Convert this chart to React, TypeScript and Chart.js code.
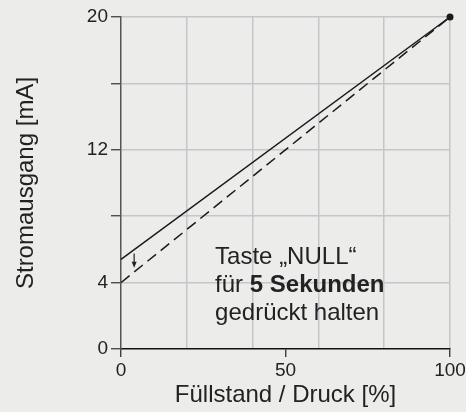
import React, { useEffect, useRef } from "react";
import { Chart, registerables } from "chart.js";

Chart.register(...registerables);

const xTicks = [0, 20, 40, 50, 60, 80, 100];
const xLabels = [0, 50, 100];
const yTicks = [0, 4, 8, 12, 16, 20];
const yLabels = [0, 4, 12, 20];

const fillLevel = [0, 100];
const currentBefore = [5.4, 20];
const currentAfter = [4, 20];

const arrowX = 4;
const arrowFrom = 5.75;
const arrowTo = 4.9;

const noteX = 28.6;
const noteY = 5.5;
const noteLines = [
  [{ t: "Taste \u201ENULL\u201C", b: false }],
  [
    { t: "für ", b: false },
    { t: "5 Sekunden", b: true },
  ],
  [{ t: "gedrückt halten", b: false }],
];

const xTitle = "Füllstand / Druck [%]";
const yTitle = "Stromausgang [mA]";

const FONT = "'Liberation Sans', Arial, Helvetica, sans-serif";
const TEXT = "#222222";
const GRID = "#c5c5ca";
const BG = "#ececea";

const annotationPlugin = {
  id: "notes",
  afterDatasetsDraw(chart: any) {
    const { ctx, scales } = chart;
    const x = scales.x;
    const y = scales.y;
    const ax = x.getPixelForValue(arrowX);
    const ay1 = y.getPixelForValue(arrowFrom);
    const ay2 = y.getPixelForValue(arrowTo);
    ctx.save();
    ctx.strokeStyle = "#222";
    ctx.fillStyle = "#222";
    ctx.lineWidth = 1.2;
    ctx.beginPath();
    ctx.moveTo(ax, ay1);
    ctx.lineTo(ax, ay2 - 5);
    ctx.stroke();
    ctx.beginPath();
    ctx.moveTo(ax - 2.5, ay2 - 6);
    ctx.lineTo(ax + 2.5, ay2 - 6);
    ctx.lineTo(ax, ay2);
    ctx.closePath();
    ctx.fill();
    const tx = x.getPixelForValue(noteX);
    let ty = y.getPixelForValue(noteY);
    ctx.textBaseline = "middle";
    ctx.textAlign = "left";
    ctx.fillStyle = TEXT;
    for (const line of noteLines) {
      let cx = tx;
      for (const seg of line) {
        ctx.font = `${seg.b ? "bold " : ""}24px ${FONT}`;
        ctx.fillText(seg.t, cx, ty);
        cx += ctx.measureText(seg.t).width;
      }
      ty += 28;
    }
    ctx.restore();
  },
};

export default function App() {
  const ref = useRef<HTMLCanvasElement>(null);
  useEffect(() => {
    document.body.style.margin = "0";
    document.body.style.background = BG;
    const chart = new Chart(ref.current!, {
      type: "line",
      data: {
        labels: fillLevel,
        datasets: [
          {
            data: fillLevel.map((v, i) => ({ x: v, y: currentBefore[i] })),
            borderColor: "#1a1a1a",
            borderWidth: 1.5,
            pointRadius: fillLevel.map((_, i) => (i === fillLevel.length - 1 ? 3.5 : 0)),
            pointBackgroundColor: "#1a1a1a",
            pointBorderWidth: 0,
            fill: false,
            clip: false,
          },
          {
            data: fillLevel.map((v, i) => ({ x: v, y: currentAfter[i] })),
            borderColor: "#1a1a1a",
            borderWidth: 1.5,
            borderDash: [11, 6],
            pointRadius: 0,
            fill: false,
          },
        ],
      },
      options: {
        animation: false,
        responsive: false,
        maintainAspectRatio: false,
        layout: { padding: { top: 17, right: 16, left: 0, bottom: 0 } },
        plugins: { legend: { display: false }, tooltip: { enabled: false } },
        scales: {
          x: {
            type: "linear",
            min: 0,
            max: 100,
            afterBuildTicks: (s: any) => {
              s.ticks = xTicks.map((v) => ({ value: v }));
            },
            afterFit: (s: any) => {
              s.height = 63;
              s.paddingLeft = 0;
              s.paddingRight = 0;
            },
            ticks: {
              autoSkip: false,
              maxRotation: 0,
              color: TEXT,
              font: { family: FONT, size: 19 },
              padding: 2,
              callback: (v: any) => (xLabels.includes(Number(v)) ? String(v) : ""),
            },
            grid: {
              color: (c: any) =>
                c.tick && (c.tick.value === 0 || c.tick.value === 50) ? "rgba(0,0,0,0)" : GRID,
              lineWidth: 1.5,
              tickLength: 8,
              tickColor: (c: any) =>
                c.tick && xLabels.includes(c.tick.value) ? "#222" : "rgba(0,0,0,0)",
              tickWidth: 1.2,
            },
            border: { color: "#111", width: 1.5 },
            title: {
              display: true,
              text: xTitle,
              color: TEXT,
              font: { family: FONT, size: 24 },
              padding: { top: 0, bottom: 2 },
            },
          },
          y: {
            type: "linear",
            min: 0,
            max: 20,
            afterBuildTicks: (s: any) => {
              s.ticks = yTicks.map((v) => ({ value: v }));
            },
            afterFit: (s: any) => {
              s.width = 121;
              s.paddingTop = 0;
              s.paddingBottom = 0;
            },
            ticks: {
              autoSkip: false,
              color: TEXT,
              font: { family: FONT, size: 19 },
              padding: 3,
              callback: (v: any) => (yLabels.includes(Number(v)) ? String(v) : ""),
            },
            grid: {
              color: (c: any) => (c.tick && c.tick.value === 0 ? "rgba(0,0,0,0)" : GRID),
              lineWidth: 1.5,
              tickLength: 10,
              tickColor: "#333",
              tickWidth: 1.2,
            },
            border: { color: "#555", width: 1.5 },
            title: {
              display: true,
              text: yTitle,
              color: TEXT,
              font: { family: FONT, size: 24 },
              padding: { top: 12, bottom: 0 },
            },
          },
        },
      },
      plugins: [annotationPlugin],
    } as any);
    return () => chart.destroy();
  }, []);
  return (
    <div style={{ width: 466, height: 412, background: BG }}>
      <canvas ref={ref} width={466} height={412} style={{ display: "block" }} />
    </div>
  );
}
